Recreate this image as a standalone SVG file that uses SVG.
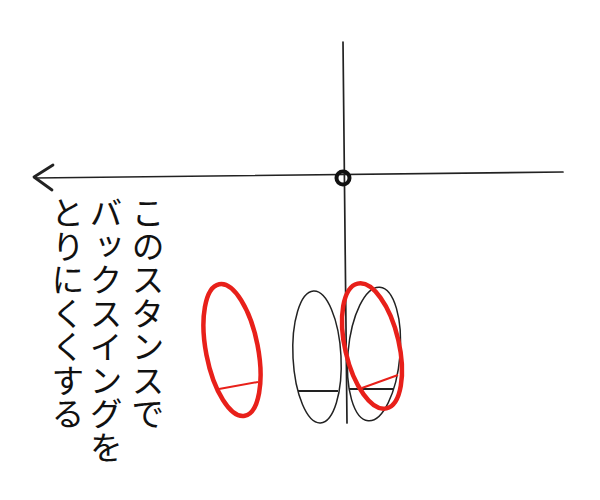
<svg xmlns="http://www.w3.org/2000/svg" width="600" height="500" viewBox="0 0 600 500">
<style>
.ax{stroke:#222;stroke-width:1.7;fill:none;stroke-linecap:round}
.blk{stroke:#222;stroke-width:1.5;fill:none}
.red{stroke:#e8201a;stroke-width:4.5;fill:none}
.rl{stroke:#e8201a;stroke-width:2;fill:none}
.bl{stroke:#222;stroke-width:2;fill:none}
.t{font-family:"Noto Sans CJK JP","Noto Sans",sans-serif;font-size:33px;font-weight:400;fill:#111;writing-mode:vertical-rl;letter-spacing:0.5px}
</style>
<rect width="600" height="500" fill="#fff"/>
<g id="connectors">
<line class="ax" x1="35" y1="178" x2="563" y2="172"/>
<polyline class="ax" points="53,165 34,177 52,190" style="stroke-width:2.8;stroke-linejoin:round"/>
<line class="ax" x1="343" y1="42" x2="347" y2="423"/>
</g>
<g id="pivot"><circle cx="343" cy="178" r="6.5" fill="none" stroke="#111" stroke-width="4"/></g>
<g id="foot-left-red">
<ellipse class="red" cx="232" cy="350" rx="26" ry="67" transform="rotate(-11 232 350)"/>
<line class="rl" x1="219" y1="389" x2="258" y2="382"/>
</g>
<g id="foot-1">
<ellipse class="blk" cx="317" cy="357" rx="24" ry="66" transform="rotate(-3 317 357)"/>
<line class="bl" x1="298" y1="391" x2="338" y2="391"/>
</g>
<g id="foot-2">
<ellipse class="blk" cx="374" cy="354" rx="26" ry="67" transform="rotate(5 374 354)"/>
<line class="bl" x1="349" y1="389" x2="393" y2="389"/>
</g>
<g id="foot-right-red">
<ellipse class="red" cx="372" cy="346" rx="27" ry="64" transform="rotate(-13 372 346)"/>
<line class="rl" x1="362" y1="388" x2="398" y2="375"/>
</g>
<g id="label">
<text class="t" x="148" y="196">このスタンスで</text>
<text class="t" x="106" y="196">バックスイングを</text>
<text class="t" x="68" y="196">とりにくくする</text>
</g>
</svg>
